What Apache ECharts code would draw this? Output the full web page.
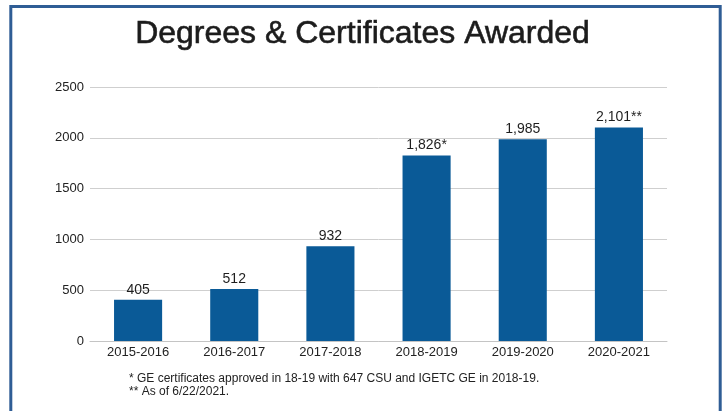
<!DOCTYPE html>
<html>
<head>
<meta charset="utf-8">
<script src="https://cdn.jsdelivr.net/npm/echarts@6/dist/echarts.min.js"></script>
<style>
html,body{margin:0;padding:0;background:#fff;}
#main{width:725px;height:411px;}
</style>
</head>
<body>
<div id="main"></div>
<script>
const categories = ['2015-2016','2016-2017','2017-2018','2018-2019','2019-2020','2020-2021'];
const awarded = [405, 512, 932, 1826, 1985, 2101];
const valueLabels = ['405','512','932','1,826*','1,985','2,101**'];
const yTicks = [0, 500, 1000, 1500, 2000, 2500];
const titleText = 'Degrees & Certificates Awarded';
const footnotes = ['* GE certificates approved in 18-19 with 647 CSU and IGETC GE in 2018-19.', '** As of 6/22/2021.'];

const chart = echarts.init(document.getElementById('main'), null, {renderer:'canvas'});
chart.setOption({
  backgroundColor:'#ffffff',
  animation:false,
  title:[{
    text:titleText,
    left:'center',
    top:13,
    textStyle:{fontFamily:'Liberation Sans, Arial, sans-serif',fontSize:32,fontWeight:'normal',color:'#1c1c1c',
      textBorderColor:'#1c1c1c',textBorderWidth:0.6}
  },{
    text:footnotes.join('\n'),
    left:124,
    top:367,
    textStyle:{fontFamily:'Liberation Sans Narrow, Liberation Sans, sans-serif',fontSize:12,fontWeight:'normal',color:'#222222',lineHeight:13}
  }],
  graphic:[{
    type:'rect',
    shape:{x:10.8,y:6.5,width:709.4,height:420},
    style:{fill:'none',stroke:'#2f5d95',lineWidth:3},
    silent:true
  }],
  grid:{left:90,right:58,top:87,bottom:70},
  xAxis:{
    type:'category',
    data:categories,
    axisTick:{show:false},
    axisLine:{show:true,lineStyle:{color:'#c4c4c4',width:1}},
    axisLabel:{color:'#222222',fontFamily:'Liberation Sans, Arial, sans-serif',fontSize:13,margin:5}
  },
  yAxis:{
    type:'value',
    min:yTicks[0],
    max:yTicks[yTicks.length-1],
    interval:500,
    axisLine:{show:false},
    axisTick:{show:false},
    splitLine:{lineStyle:{color:'#cfcfcf',width:1}},
    axisLabel:{color:'#222222',fontFamily:'Liberation Sans, Arial, sans-serif',fontSize:13,margin:6,
      formatter:function(v){return String(v);}}
  },
  series:[{
    type:'bar',
    data:awarded,
    barWidth:'50%',
    itemStyle:{color:'#0a5a97'},
    label:{
      show:true,
      position:'top',
      distance:3,
      color:'#1e1e1e',
      fontFamily:'Liberation Sans, Arial, sans-serif',
      fontSize:14,
      formatter:function(p){return valueLabels[p.dataIndex];}
    }
  }]
});
</script>
</body>
</html>
